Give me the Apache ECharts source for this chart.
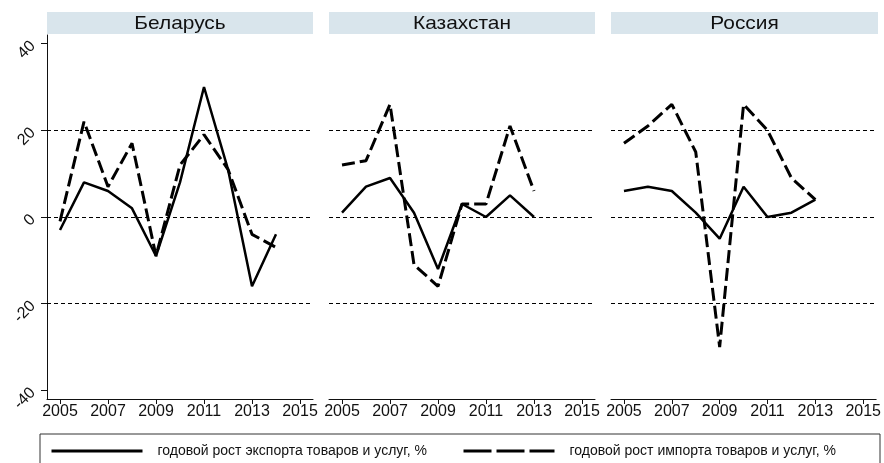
<!DOCTYPE html>
<html>
<head>
<meta charset="utf-8">
<script src="https://cdn.jsdelivr.net/npm/echarts@6/dist/echarts.min.js"></script>
<style>html,body{margin:0;padding:0;background:#fff}#c{width:884px;height:463px}</style>
</head>
<body>
<div id="c"></div>
<script>
const panels = ['Беларусь', 'Казахстан', 'Россия'];
const yearsBel = [2005, 2006, 2007, 2008, 2009, 2010, 2011, 2012, 2013, 2014];
const yearsKaz = [2005, 2006, 2007, 2008, 2009, 2010, 2011, 2012, 2013];
const yearsRus = [2005, 2006, 2007, 2008, 2009, 2010, 2011, 2012, 2013];
const belExport = [-3, 8, 6, 2, -9, 8, 30, 11, -16, -4];
const belImport = [-1, 22, 7, 17, -9, 12, 19, 11, -4, -7];
const kazExport = [1, 7, 9, 1, -12, 3, 0, 5, 0];
const kazImport = [12, 13, 26, -11, -16, 3, 3, 21, 6];
const rusExport = [6, 7, 6, 1, -5, 7, 0, 1, 4];
const rusImport = [17, 21, 26, 15, -30, 26, 20, 9, 4];
const xTicks = [2005, 2007, 2009, 2011, 2013, 2015];
const yTicks = [-40, -20, 0, 20, 40];
const gridValues = [-20, 0, 20];
const seriesNames = ['годовой рост экспорта товаров и услуг, %', 'годовой рост импорта товаров и услуг, %'];

const years = [yearsBel, yearsKaz, yearsRus];
const exps = [belExport, kazExport, rusExport];
const imps = [belImport, kazImport, rusImport];

const gridLefts = [47, 329, 611];
const gridWidths = [266, 266, 267];
const gridTop = 35, gridHeight = 364;
const FONT = 'Liberation Sans, Arial, sans-serif';

const grids = [], xAxes = [], yAxes = [], series = [], graphics = [];
for (let i = 0; i < 3; i++) {
  grids.push({left: gridLefts[i], top: gridTop, width: gridWidths[i], height: gridHeight, containLabel: false});
  xAxes.push({
    type: 'value', gridIndex: i, min: 2004.458, max: 2015.542,
    axisLine: {show: true, onZero: false, lineStyle: {color: '#111', width: 1}},
    axisTick: {show: true, customValues: xTicks, length: 5, lineStyle: {color: '#111'}},
    axisLabel: {customValues: xTicks, color: '#111', fontSize: 16, fontFamily: FONT, margin: 5, formatter: v => String(v)},
    splitLine: {show: false}
  });
  yAxes.push({
    type: 'value', gridIndex: i, min: -42, max: 42,
    axisLine: {show: i === 0, lineStyle: {color: '#111', width: 1}},
    axisTick: {show: i === 0, customValues: yTicks, length: 6, lineStyle: {color: '#111'}},
    axisLabel: {show: i === 0, customValues: yTicks, rotate: 45, color: '#111', fontSize: 16, fontFamily: FONT, margin: 14},
    splitLine: {show: false}
  });
  const ex = years[i].map((y, k) => [y, exps[i][k]]);
  const im = years[i].map((y, k) => [y, imps[i][k]]);
  series.push({
    name: seriesNames[0], type: 'line', xAxisIndex: i, yAxisIndex: i, data: ex,
    symbol: 'none', showSymbol: false, silent: true, animation: false,
    itemStyle: {color: '#000'},
    lineStyle: {color: '#000', width: 2.5, type: 'solid'},
    markLine: {
      silent: true, symbol: 'none', animation: false,
      label: {show: false},
      lineStyle: {color: '#000', width: 1, type: [4, 3]},
      data: gridValues.map(v => ({yAxis: v}))
    },
    z: 3
  });
  series.push({
    name: seriesNames[1], type: 'line', xAxisIndex: i, yAxisIndex: i, data: im,
    symbol: 'none', showSymbol: false, silent: true, animation: false,
    itemStyle: {color: '#000'},
    lineStyle: {color: '#000', width: 3, type: [13, 5]},
    z: 3
  });
  graphics.push({
    type: 'group', left: gridLefts[i], top: 12,
    children: [
      {type: 'rect', shape: {x: 0, y: 0, width: gridWidths[i], height: 22}, style: {fill: '#d9e5ec'}},
      {type: 'text', x: gridWidths[i] / 2, y: 12, scaleX: 1.1, style: {text: panels[i], fill: '#111', font: '19px ' + FONT, align: 'center', verticalAlign: 'middle'}}
    ]
  });
}
graphics.push({type: 'rect', shape: {x: 40, y: 434, width: 840, height: 40}, style: {fill: 'none', stroke: '#333', lineWidth: 1}});

const legendBase = {top: 444, itemWidth: 91, itemHeight: 14, selectedMode: false, padding: 0,
  itemStyle: {opacity: 0},
  textStyle: {fontSize: 14, fontFamily: FONT, color: '#111', padding: [0, 0, 0, 10]}};
const option = {
  animation: false,
  backgroundColor: '#fff',
  grid: grids, xAxis: xAxes, yAxis: yAxes, series: series,
  graphic: graphics,
  legend: [
    Object.assign({}, legendBase, {left: 50,
     data: [{name: seriesNames[0], itemStyle: {opacity: 0}, lineStyle: {color: '#000', width: 3, type: 'solid'}}]}),
    Object.assign({}, legendBase, {left: 462,
     data: [{name: seriesNames[1], itemStyle: {opacity: 0}, lineStyle: {color: '#000', width: 3, type: [28, 5]}}]})
  ]
};
const chart = echarts.init(document.getElementById('c'), null, {renderer: 'canvas'});
chart.setOption(option);
</script>
</body>
</html>
